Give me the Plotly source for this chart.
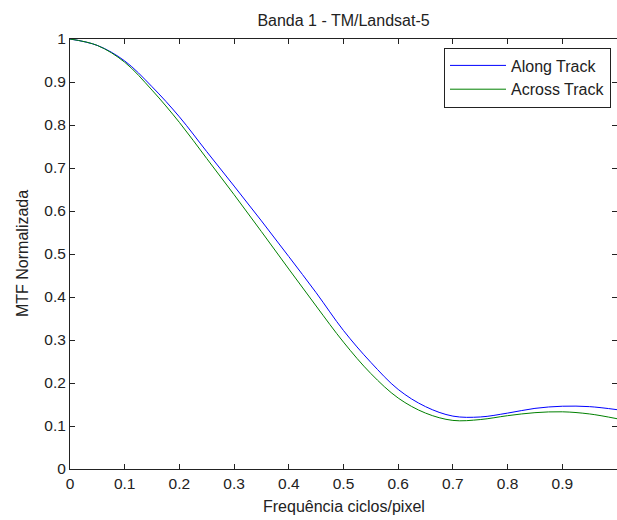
import plotly.graph_objects as go

freq = [0.0, 0.05, 0.1, 0.15, 0.2, 0.25, 0.3, 0.35, 0.4, 0.45, 0.5, 0.55,
        0.6, 0.65, 0.7, 0.75, 0.8, 0.85, 0.9, 0.95, 1.0]
along_track = [1.0, 0.985, 0.949, 0.889, 0.819, 0.738, 0.658, 0.577, 0.494, 0.410,
               0.322, 0.248, 0.185, 0.145, 0.123, 0.121, 0.130, 0.141, 0.146, 0.145, 0.138]
across_track = [1.0, 0.985, 0.946, 0.881, 0.806, 0.722, 0.638, 0.552, 0.465, 0.379,
                0.295, 0.222, 0.165, 0.130, 0.113, 0.115, 0.124, 0.131, 0.133, 0.128, 0.117]
xticks = [0, 0.1, 0.2, 0.3, 0.4, 0.5, 0.6, 0.7, 0.8, 0.9, 1]
yticks = [0, 0.1, 0.2, 0.3, 0.4, 0.5, 0.6, 0.7, 0.8, 0.9, 1]

W, H = 617, 520
L, T, PW, PH = 70, 39, 547, 430

font = dict(family="Liberation Sans, Arial, sans-serif", size=16, color="#222")
tickfont = dict(family="Liberation Sans, Arial, sans-serif", size=15.5, color="#222")

fig = go.Figure()
fig.add_trace(go.Scatter(x=freq, y=along_track, mode="lines", name="Along Track",
                         line=dict(color="#0000FF", width=1, shape="spline", smoothing=1)))
fig.add_trace(go.Scatter(x=freq, y=across_track, mode="lines", name="Across Track",
                         line=dict(color="#008000", width=1, shape="spline", smoothing=1)))

axis_common = dict(showline=True, linecolor="#222", linewidth=1, mirror="ticks",
                   ticks="inside", ticklen=5, tickcolor="#222", showgrid=False,
                   zeroline=False, tickfont=tickfont, automargin=False)

fig.update_layout(
    width=W, height=H,
    margin=dict(l=L, r=W - L - PW, t=T, b=H - T - PH, autoexpand=False),
    paper_bgcolor="white", plot_bgcolor="white",
    font=font,
    title=dict(text="Banda 1 - TM/Landsat-5", x=(L + PW / 2) / W, xanchor="center",
               y=1 - 20 / H, yanchor="middle", font=font),
    xaxis=dict(range=[0, 1], tickvals=xticks, ticktext=[f"{v:g}" for v in xticks],
               **axis_common),
    yaxis=dict(range=[0, 1], tickvals=yticks, ticktext=[f"{v:g}" for v in yticks],
               **axis_common),
    legend=dict(x=(611 - L) / PW, y=1 - (47.5 - T) / PH, xanchor="right", yanchor="top",
                bgcolor="white", bordercolor="#222", borderwidth=1,
                font=font, itemwidth=56, tracegroupgap=0),
    showlegend=True,
    annotations=[
        dict(text="Frequência ciclos/pixel", xref="paper", yref="paper",
             x=0.5, y=-(506 - (T + PH)) / PH, xanchor="center", yanchor="middle",
             showarrow=False, font=font),
        dict(text="MTF Normalizada", xref="paper", yref="paper", textangle=-90,
             x=-(L - 22) / PW, y=0.5, xanchor="center", yanchor="middle",
             showarrow=False, font=font),
    ],
)

fig.write_html(
    "out.html",
    config={"displayModeBar": False},
    post_script="document.body.style.margin='0';document.body.style.overflow='hidden';",
)
